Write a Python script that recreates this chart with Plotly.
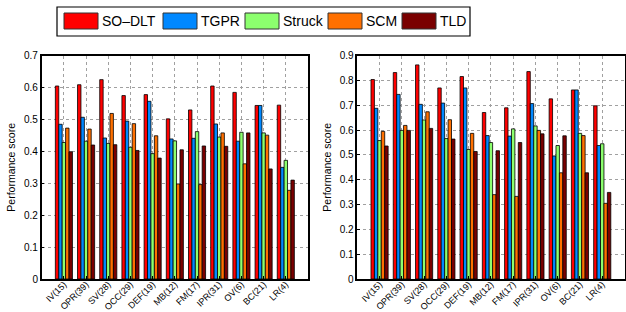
import plotly.graph_objects as go

W, H = 626, 312

categories = ["IV(15)", "OPR(39)", "SV(28)", "OCC(29)", "DEF(19)", "MB(12)",
              "FM(17)", "IPR(31)", "OV(6)", "BC(21)", "LR(4)"]
series_names = ["SO\u2013DLT", "TGPR", "Struck", "SCM", "TLD"]
colors = ["#FF0000", "#0088FF", "#8CFF6E", "#FF7000", "#7A0000"]

# Left chart
left_sodlt = [0.605, 0.609, 0.625, 0.575, 0.578, 0.502, 0.530, 0.605, 0.585, 0.544, 0.545]
left_tgpr = [0.485, 0.507, 0.442, 0.495, 0.557, 0.439, 0.441, 0.486, 0.432, 0.544, 0.350]
left_struck = [0.428, 0.432, 0.425, 0.413, 0.393, 0.433, 0.462, 0.445, 0.460, 0.458, 0.372]
left_scm = [0.473, 0.470, 0.519, 0.487, 0.449, 0.298, 0.296, 0.458, 0.361, 0.451, 0.278]
left_tld = [0.399, 0.420, 0.421, 0.403, 0.379, 0.405, 0.417, 0.416, 0.458, 0.345, 0.310]

# Right chart
right_sodlt = [0.804, 0.832, 0.863, 0.770, 0.816, 0.671, 0.690, 0.836, 0.726, 0.762, 0.698]
right_tgpr = [0.688, 0.744, 0.704, 0.709, 0.770, 0.578, 0.576, 0.707, 0.496, 0.762, 0.538]
right_struck = [0.558, 0.599, 0.641, 0.566, 0.522, 0.550, 0.605, 0.617, 0.538, 0.587, 0.545]
right_scm = [0.595, 0.619, 0.674, 0.642, 0.587, 0.340, 0.333, 0.599, 0.428, 0.578, 0.305]
right_tld = [0.536, 0.599, 0.607, 0.564, 0.514, 0.517, 0.550, 0.585, 0.577, 0.428, 0.349]

left_y_ticks = [0, 0.1, 0.2, 0.3, 0.4, 0.5, 0.6, 0.7]
right_y_ticks = [0, 0.1, 0.2, 0.3, 0.4, 0.5, 0.6, 0.7, 0.8, 0.9]

left_data = [left_sodlt, left_tgpr, left_struck, left_scm, left_tld]
right_data = [right_sodlt, right_tgpr, right_struck, right_scm, right_tld]

FONT = "Liberation Sans"

def px(x):
    return x / W

def py(y):
    return 1 - y / H

xpos = list(range(1, len(categories) + 1))

fig = go.Figure()
for name, col, vals in zip(series_names, colors, left_data):
    fig.add_trace(go.Bar(x=xpos, y=vals, name=name, marker_color=col,
                         marker_line=dict(color="black", width=0.8),
                         xaxis="x", yaxis="y", showlegend=False))
for name, col, vals in zip(series_names, colors, right_data):
    fig.add_trace(go.Bar(x=xpos, y=vals, name=name, marker_color=col,
                         marker_line=dict(color="black", width=0.8),
                         xaxis="x2", yaxis="y2", showlegend=False))

common_x = dict(range=[0, 12], tickmode="array", tickvals=xpos, ticktext=categories,
                tickangle=-45, showgrid=True, gridcolor="#A0A0A0", griddash="dot",
                gridwidth=1, showline=True, linecolor="black", linewidth=1.5,
                mirror=True, ticks="inside", ticklen=3, tickcolor="black",
                ticklabelstandoff=-5,
                tickfont=dict(size=9, family=FONT, color="black"),
                automargin=False, zeroline=False, fixedrange=True)
common_y = dict(showgrid=True, gridcolor="#A0A0A0", griddash="dot", gridwidth=1,
                showline=True, linecolor="black", linewidth=1.5, mirror=True,
                ticks="inside", ticklen=3, tickcolor="black",
                tickfont=dict(size=10, family=FONT, color="black"),
                title=dict(text="Performance score", font=dict(size=10.5, family=FONT, color="black"),
                           standoff=6),
                automargin=False, zeroline=False, fixedrange=True)

ybot, ytop = py(279), py(55.7)

fig.update_layout(
    width=W, height=H,
    margin=dict(l=0, r=0, t=0, b=0),
    paper_bgcolor="white", plot_bgcolor="white",
    barmode="group", bargap=0.23, bargroupgap=0,
    font=dict(family=FONT, color="black"),
    xaxis=dict(domain=[px(41.7), px(308)], anchor="y", **common_x),
    yaxis=dict(domain=[ybot, ytop], anchor="x", range=[0, 0.7], tickvals=left_y_ticks,
               **common_y),
    xaxis2=dict(domain=[px(357.3), px(624.5)], anchor="y2", **common_x),
    yaxis2=dict(domain=[ybot, ytop], anchor="x2", range=[0, 0.9], tickvals=right_y_ticks,
                **common_y),
)

# Custom legend (box, swatches, labels)
shapes = [dict(type="rect", xref="paper", yref="paper", x0=px(57), x1=px(470),
               y0=py(36), y1=py(7), line=dict(color="black", width=1.2), fillcolor="white")]
annotations = []
text_w = [56, 39, 40, 31, 27]   # approximate label widths (px) for layout
sw_w, gap_in, gap_out = 34, 4, 5
sx = 64
for name, col, tw in zip(series_names, colors, text_w):
    shapes.append(dict(type="rect", xref="paper", yref="paper", x0=px(sx), x1=px(sx + sw_w),
                       y0=py(29), y1=py(13), line=dict(color="#333333", width=1),
                       fillcolor=col))
    annotations.append(dict(xref="paper", yref="paper", x=px(sx + sw_w + gap_in), y=py(21.5),
                            text=name, showarrow=False, xanchor="left", yanchor="middle",
                            xshift=-2,
                            font=dict(size=14, family=FONT, color="black")))
    sx += sw_w + gap_in + tw + gap_out
fig.update_layout(shapes=shapes, annotations=annotations)

fig.write_html("out.html",
               config={"displayModeBar": False},
               post_script="document.body.style.margin='0';document.body.style.padding='0';"
                           "document.body.style.overflow='hidden';")
